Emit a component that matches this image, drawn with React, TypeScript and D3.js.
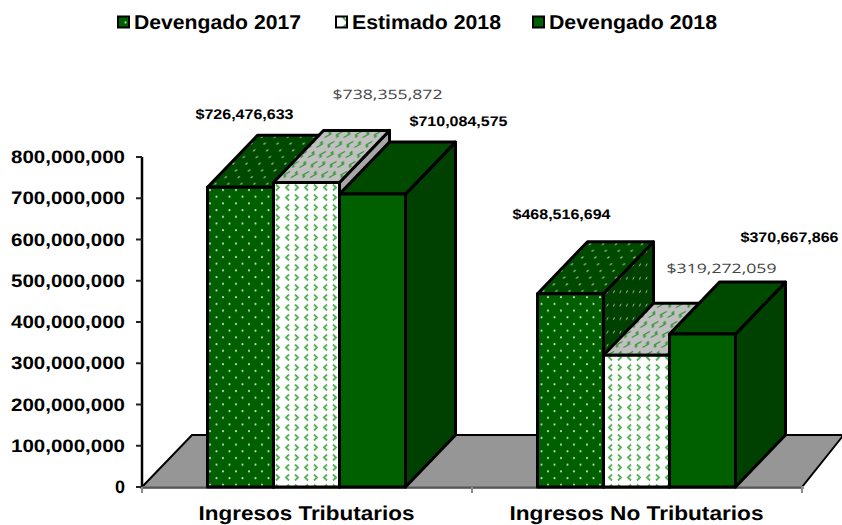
import React from "react";
import * as d3 from "d3";

const categories = ["Ingresos Tributarios", "Ingresos No Tributarios"];
const seriesNames = ["Devengado 2017", "Estimado 2018", "Devengado 2018"];
const devengado2017 = [726476633, 468516694];
const estimado2018 = [738355872, 319272059];
const devengado2018 = [710084575, 370667866];
const seriesValues = [devengado2017, estimado2018, devengado2018];
const yTicks = [0, 100000000, 200000000, 300000000, 400000000, 500000000, 600000000, 700000000, 800000000];

const width = 842, height = 525;
const depthX = 50, depthY = 52;
const base = 487;

const y = d3.scaleLinear().domain([0, 800000000]).range([base, 157]);
const x0 = d3.scaleBand().domain(categories).range([141.5, 801.5]);
const x1 = d3.scaleBand().domain(seriesNames).range([0, x0.bandwidth()]).paddingOuter(1).paddingInner(0);

const fmt = d3.format(",");
const poly = (pts: number[][]) => pts.map(p => p.join(",")).join(" ");

// front / top / side fill of each series
const fills = [
    ["url(#dotFront)", "url(#dotTop)", "url(#dotSide)"],
    ["url(#chevFront)", "url(#chevTop)", "#a6a6a6"],
    ["#006000", "#004a00", "#004000"],
];

// label anchors as offsets from the bar's top-left front corner
const labelPos = [
    [[-12, -68], [-25, -75]],
    [[59, -83], [63, -82]],
    [[70, -68], [71, -92]],
];
const labelWidth = [98, 110, 98];

const legendX = [117, 335, 532];
const legendWidth = [167, 149, 168];

function Chevrons({ color }: { color: string }) {
    return (
        <g fill="none" stroke={color} strokeWidth={1.9}>
            <path d="M3 1.5l3 3l-3 3M16 1.5l-3 3l3 3M3 11.5l3 3l-3 3M16 11.5l-3 3l3 3" />
        </g>
    );
}

function Dots({ color }: { color: string }) {
    return (
        <g fill={color}>
            <circle cx={3} cy={3} r={1.05} />
            <circle cx={9.5} cy={9.7} r={1.05} />
        </g>
    );
}

export default function App() {
    return (
        <svg width={width} height={height} style={{ position: "absolute", left: 0, top: 0, background: "#fff" }} fontFamily="Liberation Sans, Arial, sans-serif" textRendering="geometricPrecision">
            <defs>
                <pattern id="dotFront" width={13} height={13.4} patternUnits="userSpaceOnUse" x={207} y={187}>
                    <rect width={13} height={13.4} fill="#006000" />
                    <Dots color="#c4dcc4" />
                </pattern>
                <pattern id="dotTop" width={13} height={13.4} patternUnits="userSpaceOnUse" patternTransform="skewX(-30)">
                    <rect width={13} height={13.4} fill="#004a00" />
                    <Dots color="#8fb58f" />
                </pattern>
                <pattern id="dotSide" width={13} height={13.4} patternUnits="userSpaceOnUse" patternTransform="skewY(-46)">
                    <rect width={13} height={13.4} fill="#004000" />
                    <Dots color="#7fa57f" />
                </pattern>
                <pattern id="chevFront" width={19} height={20} patternUnits="userSpaceOnUse" x={273} y={183}>
                    <rect width={19} height={20} fill="#fff" />
                    <Chevrons color="#58b458" />
                </pattern>
                <pattern id="chevTop" width={19} height={20} patternUnits="userSpaceOnUse" patternTransform="skewX(-40)">
                    <rect width={19} height={20} fill="#c0c0c0" />
                    <Chevrons color="#3f9a3f" />
                </pattern>
            </defs>

            {/* legend */}
            {seriesNames.map((name, i) => (
                <g key={name}>
                    <rect x={legendX[i] + 1} y={16.5} width={11} height={11} fill={fills[i][0]} stroke="#000" strokeWidth={2} />
                    <text x={legendX[i] + 17} y={29} fontSize={20} fontWeight="bold" textLength={legendWidth[i]} lengthAdjust="spacingAndGlyphs">{name}</text>
                </g>
            ))}

            {/* floor */}
            <polygon
                points={poly([[142, base], [142 + depthX, base - depthY], [842, base - depthY], [842, base - depthY + 2], [802, base]])}
                fill="#969696"
                stroke="#000"
                strokeWidth={2}
            />
            <rect x={140} y={base - 1} width={664} height={3} fill="#969696" />

            {/* axes */}
            <line x1={142} x2={142} y1={157} y2={base} stroke="#000" strokeWidth={2.5} />
            <line x1={142} x2={802} y1={base + 0.5} y2={base + 0.5} stroke="#555" strokeWidth={2} />
            {yTicks.map(t => (
                <g key={t}>
                    <line x1={136} x2={142} y1={y(t)} y2={y(t)} stroke="#222" strokeWidth={2} />
                    <text x={125} y={y(t) + 6} textAnchor="end" fontSize={18} fontWeight="bold" textLength={t === 0 ? 10 : 114} lengthAdjust="spacingAndGlyphs">{fmt(t)}</text>
                </g>
            ))}
            {[142, 472, 802].map(t => (
                <line key={t} x1={t} x2={t} y1={base} y2={base + 6} stroke="#8c8c8c" strokeWidth={2} />
            ))}
            {categories.map((c, i) => (
                <text key={c} x={x0(c)! + x0.bandwidth() / 2} y={520} textAnchor="middle" fontSize={20} fontWeight="bold" textLength={[216, 254][i]} lengthAdjust="spacingAndGlyphs">{c}</text>
            ))}

            {/* bars, painted left to right so nearer faces cover the sides */}
            {categories.map((c, ci) => seriesNames.map((s, si) => {
                const left = x0(c)! + x1(s)!;
                const right = left + x1.bandwidth();
                const top = y(seriesValues[si][ci]);
                return (
                    <g key={s} stroke="#000" strokeWidth={3} strokeLinejoin="round">
                        <polygon points={poly([[right, top], [right + depthX, top - depthY], [right + depthX, base - depthY], [right, base]])} fill={fills[si][2]} />
                        <polygon points={poly([[left, top], [left + depthX, top - depthY], [right + depthX, top - depthY], [right, top]])} fill={fills[si][1]} />
                        <rect x={left} y={top} width={right - left} height={base - top} fill={fills[si][0]} />
                    </g>
                );
            }))}

            {/* value labels */}
            {categories.map((c, ci) => seriesNames.map((s, si) => {
                const left = x0(c)! + x1(s)!;
                const top = y(seriesValues[si][ci]);
                const [dx, dy] = labelPos[si][ci];
                const thin = si === 1;
                return (
                    <text
                        key={s}
                        x={left + dx}
                        y={top + dy}
                        fontSize={thin ? 13 : 14}
                        fontWeight={thin ? 400 : "bold"}
                        fontFamily={thin ? "Open Sans, sans-serif" : undefined}
                        fill={thin ? "#444" : "#000"}
                        textLength={labelWidth[si]}
                        lengthAdjust="spacingAndGlyphs"
                    >
                        {"$" + fmt(seriesValues[si][ci])}
                    </text>
                );
            }))}
        </svg>
    );
}
